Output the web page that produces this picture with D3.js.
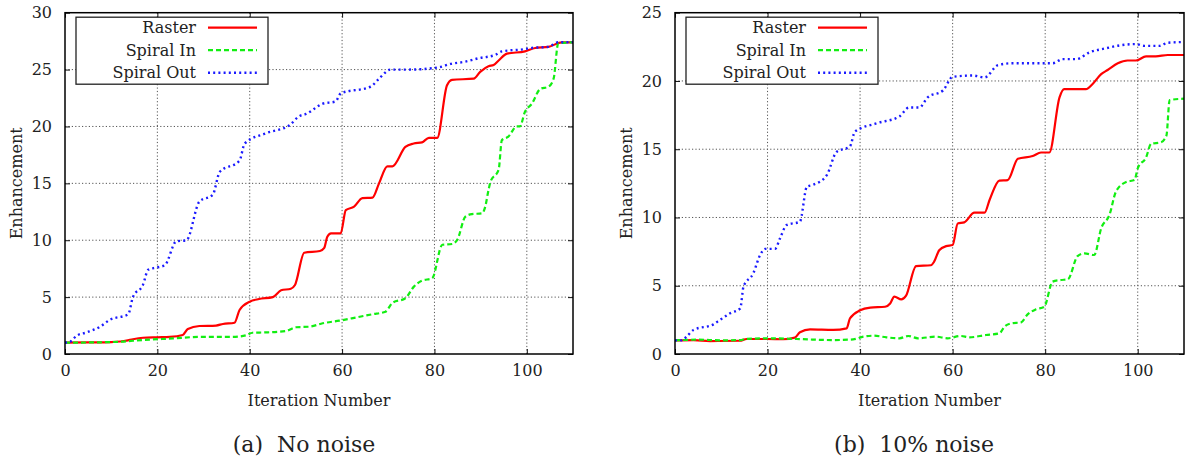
<!DOCTYPE html>
<html>
<head>
<meta charset="utf-8">
<script src="https://cdn.jsdelivr.net/npm/d3@7"></script>
<style>
  body { margin: 0; background: #fff; }
  svg text { font-family: "DejaVu Serif", "Liberation Serif", "Times New Roman", Times, serif !important; fill: #222; }
</style>
</head>
<body>
<svg id="chart" width="1186" height="462"></svg>
<script>
// series names and tick labels
const seriesNames = ['Raster', 'Spiral In', 'Spiral Out'];
const xTicks = [0, 20, 40, 60, 80, 100];
const yTicksA = [0, 5, 10, 15, 20, 25, 30];
const yTicksB = [0, 5, 10, 15, 20, 25];

// (a) No noise : [iteration, enhancement]
const rasterA = [[0,1],[5,1.02],[10,1.05],[12,1.1],[13.3,1.17],[14.7,1.3],[16.9,1.43],[20,1.47],[22.7,1.5],[25.5,1.67],[26.6,2.2],[29.1,2.46],[32.7,2.5],[34.2,2.64],[36.7,2.75],[37.8,3.87],[40,4.6],[42,4.83],[45,5.0],[46.8,5.6],[48.9,5.74],[49.8,6.06],[51.8,8.9],[55.2,9.05],[56.1,9.3],[56.8,10.3],[57.6,10.6],[59.7,10.6],[60.8,12.65],[62.6,12.95],[64.4,13.7],[66.6,13.75],[68,15.0],[69.8,16.5],[70.9,16.5],[73.7,18.2],[75.5,18.5],[77.3,18.6],[78.8,19.0],[80.6,19.0],[82.7,23.6],[83.8,24.1],[88.5,24.2],[89.9,24.8],[91.7,25.3],[92.8,25.4],[93.9,25.8],[95.7,26.4],[99.6,26.6],[101.8,26.9],[104.7,27.0],[107.6,27.4],[110,27.4]];
const spiralInA = [[0,1],[6,1.02],[11.9,1.08],[16.9,1.23],[23.4,1.37],[29.1,1.5],[36.3,1.5],[39.2,1.64],[40.6,1.87],[43.5,1.9],[47.8,2.02],[50,2.35],[52.9,2.4],[55.8,2.7],[59.4,2.93],[62.9,3.2],[66.5,3.49],[69.4,3.72],[70.9,4.5],[73.7,4.9],[75.5,5.9],[77.3,6.45],[79.5,6.65],[81.7,9.6],[83.8,9.67],[84.9,10.0],[86.7,12.07],[88.1,12.3],[90.3,12.36],[91,12.95],[91.7,14.4],[92.1,15.1],[93.9,16.2],[94.6,18.8],[96,19.1],[97.8,20.0],[98.5,20.0],[99.6,21.3],[101.1,22.0],[102.9,23.3],[104.7,23.5],[105.8,24.2],[106.8,27.3],[110,27.4]];
const spiralOutA = [[0,1],[1,1.05],[2.5,1.6],[4.7,1.9],[7.6,2.4],[9.7,3.0],[13.7,3.5],[14.7,5.0],[16.9,6.1],[18,7.4],[19.8,7.6],[21.6,7.8],[24.1,9.9],[26.3,10.0],[29.1,13.4],[32,14.0],[33.5,16.0],[37.8,17.0],[38.9,18.5],[43.5,19.4],[48.6,20.1],[50.7,20.9],[52.2,21.1],[55.8,22.0],[58.6,22.2],[59.7,22.9],[66.2,23.5],[68,24.2],[70.5,25.0],[74.5,25.0],[80.9,25.2],[83.5,25.5],[86.7,25.7],[89.6,26.0],[93.2,26.3],[94.6,26.6],[99.6,26.8],[101.1,26.9],[104.7,27.0],[106.8,27.4],[110,27.4]];

// (b) 10% noise
const rasterB = [[0,1],[4,1.02],[7.6,0.95],[14,0.97],[15.5,1.1],[19.8,1.1],[23.4,1.08],[25.9,1.2],[27,1.59],[29.2,1.8],[34.2,1.76],[37.1,1.88],[37.8,2.6],[40,3.2],[42.2,3.4],[45.4,3.46],[46.5,3.7],[47.4,4.2],[48.9,4.0],[49.9,4.25],[52.1,6.44],[55.3,6.5],[56,6.76],[57.1,7.6],[58.6,7.9],[60,7.98],[61.1,9.56],[62.5,9.64],[64.7,10.35],[66.9,10.35],[68,11.3],[70.1,12.7],[71.9,12.74],[74.1,14.3],[77.3,14.5],[79.1,14.76],[80.9,14.76],[83.1,18.8],[84.1,19.4],[88.8,19.4],[90.3,19.8],[92.1,20.5],[93.5,20.8],[95.7,21.3],[97.8,21.5],[99.6,21.5],[101.8,21.8],[103.9,21.8],[106.5,21.9],[110,21.9]];
const spiralInB = [[0,1],[5,1.05],[10,1.0],[14,1.02],[15.5,1.1],[19.8,1.15],[26.3,1.1],[34.2,1.02],[38.5,1.07],[40.7,1.27],[42.9,1.34],[45.7,1.22],[48.5,1.15],[50.4,1.32],[52.5,1.15],[56.4,1.27],[58.9,1.15],[61.8,1.32],[63.6,1.22],[67.2,1.39],[70.1,1.51],[71.2,2.0],[72.6,2.24],[74.8,2.32],[76.2,2.9],[78,3.27],[79.8,3.46],[81.6,5.3],[83.4,5.42],[84.9,5.47],[87,7.17],[88.5,7.37],[90.6,7.25],[92.1,9.2],[93.9,10.2],[95.3,11.9],[97.5,12.6],[99.3,12.74],[100,13.6],[101.8,14.4],[102.9,15.4],[105,15.5],[106.2,16.0],[106.9,18.6],[110,18.7]];
const spiralOutB = [[0,1],[1.5,1.0],[2.5,1.27],[4,1.76],[8.3,2.17],[9.7,2.49],[11.9,2.98],[14.1,3.34],[14.8,4.93],[16.9,5.9],[18.4,7.25],[19.5,7.7],[21.6,7.7],[22.7,8.47],[24.1,9.44],[27,9.7],[28.5,12.25],[29.9,12.4],[32.8,13.1],[34.9,14.8],[37.8,15.2],[38.9,16.3],[43.6,16.9],[48.5,17.4],[50.6,18.06],[52.8,18.06],[54.6,18.8],[57.9,19.3],[60,20.3],[64.4,20.4],[66.9,20.26],[69.8,21.16],[73,21.3],[81.6,21.3],[83.8,21.6],[86.7,21.6],[89.6,22.1],[93.2,22.4],[96,22.6],[99.6,22.7],[101.4,22.57],[104.7,22.57],[106.5,22.8],[110,22.85]];

const styles = [
  { color: '#ff0000', dash: null, width: 2.2 },
  { color: '#11ee11', dash: '5,3', width: 2.2 },
  { color: '#1a1aff', dash: '2,3.2', width: 2.4 }
];
const serif = '"DejaVu Serif", "Liberation Serif", "Times New Roman", Times, serif';

const svg = d3.select('#chart');

function panel(opts) {
  const { left, right, top, bottom, yMax, yTicks, series, caption, captionX, ylabelX } = opts;
  const x = d3.scaleLinear().domain([0, 110]).range([left, right]);
  const y = d3.scaleLinear().domain([0, yMax]).range([bottom, top]);
  const g = svg.append('g').style('font-family', serif);

  // grid
  g.selectAll('.gx').data(xTicks.filter(d => d > 0)).enter().append('line')
    .attr('x1', d => x(d)).attr('x2', d => x(d)).attr('y1', top).attr('y2', bottom)
    .attr('stroke', '#555').attr('stroke-width', 1).attr('stroke-dasharray', '1.2,2.2');
  g.selectAll('.gy').data(yTicks.filter(d => d > 0 && d < yMax)).enter().append('line')
    .attr('y1', d => y(d)).attr('y2', d => y(d)).attr('x1', left).attr('x2', right)
    .attr('stroke', '#555').attr('stroke-width', 1).attr('stroke-dasharray', '1.2,2.2');

  // axes, ticks pointing inward, mirrored
  const ax = g.append('g').attr('transform', `translate(0,${bottom})`)
    .call(d3.axisBottom(x).tickValues(xTicks).tickSize(-5).tickPadding(11));
  g.append('g').attr('transform', `translate(0,${top})`)
    .call(d3.axisTop(x).tickValues(xTicks).tickSize(-5).tickFormat(''));
  const ay = g.append('g').attr('transform', `translate(${left},0)`)
    .call(d3.axisLeft(y).tickValues(yTicks).tickSize(-5).tickPadding(13));
  g.append('g').attr('transform', `translate(${right},0)`)
    .call(d3.axisRight(y).tickValues(yTicks).tickSize(-5).tickFormat(''));
  g.selectAll('.domain').remove();
  g.selectAll('.tick line').attr('stroke', '#111').attr('stroke-width', 1);
  g.selectAll('g').attr('font-family', null);
  ax.selectAll('text').attr('font-size', 16).style('font-family', serif).attr('fill', '#222');
  ay.selectAll('text').attr('font-size', 16).style('font-family', serif).attr('fill', '#222');

  // lines
  const line = d3.line().x(d => x(d[0])).y(d => y(d[1])).curve(d3.curveMonotoneX);
  series.forEach((s, i) => {
    g.append('path').datum(s)
      .attr('d', line)
      .attr('fill', 'none')
      .attr('stroke', styles[i].color)
      .attr('stroke-width', styles[i].width)
      .attr('stroke-dasharray', styles[i].dash)
      .attr('stroke-linejoin', 'round');
  });

  // frame
  g.append('rect').attr('x', left).attr('y', top)
    .attr('width', right - left).attr('height', bottom - top)
    .attr('fill', 'none').attr('stroke', '#000').attr('stroke-width', 1.5);

  // legend
  const lg = g.append('g').attr('transform', `translate(${left},${top})`);
  lg.append('rect').attr('x', 11).attr('y', 4.5).attr('width', 192).attr('height', 67)
    .attr('fill', '#fff').attr('stroke', '#222').attr('stroke-width', 1.3);
  seriesNames.forEach((name, i) => {
    const ry = 15 + i * 22.5;
    lg.append('text').attr('x', 131).attr('y', ry).attr('dy', '0.35em')
      .attr('text-anchor', 'end').attr('font-size', 16).style('font-family', serif).text(name);
    lg.append('line').attr('x1', 143).attr('x2', 192).attr('y1', ry).attr('y2', ry)
      .attr('stroke', styles[i].color).attr('stroke-width', styles[i].width)
      .attr('stroke-dasharray', styles[i].dash);
  });

  // axis titles
  g.append('text').attr('x', (left + right) / 2).attr('y', 400).attr('dy', '0.35em')
    .attr('text-anchor', 'middle').attr('font-size', 16).style('font-family', serif).text('Iteration Number');
  g.append('text').attr('transform', `translate(${ylabelX},${(top + bottom) / 2}) rotate(-90)`)
    .attr('dy', '0.35em').attr('text-anchor', 'middle').attr('font-size', 16)
    .style('font-family', serif).text('Enhancement');

  // caption
  g.append('text').attr('x', captionX).attr('y', 452).attr('text-anchor', 'middle')
    .attr('font-size', 22).style('font-family', '"Liberation Serif", "Times New Roman", "DejaVu Serif", serif')
    .attr('fill', '#000').attr('xml:space', 'preserve').text(caption);
}

panel({ left: 65, right: 573, top: 12.7, bottom: 354, yMax: 30, yTicks: yTicksA,
  series: [rasterA, spiralInA, spiralOutA], caption: '(a)  No noise', captionX: 304, ylabelX: 16 });
panel({ left: 675, right: 1184, top: 12.7, bottom: 354, yMax: 25, yTicks: yTicksB,
  series: [rasterB, spiralInB, spiralOutB], caption: '(b)  10% noise', captionX: 914, ylabelX: 626 });
</script>
</body>
</html>
